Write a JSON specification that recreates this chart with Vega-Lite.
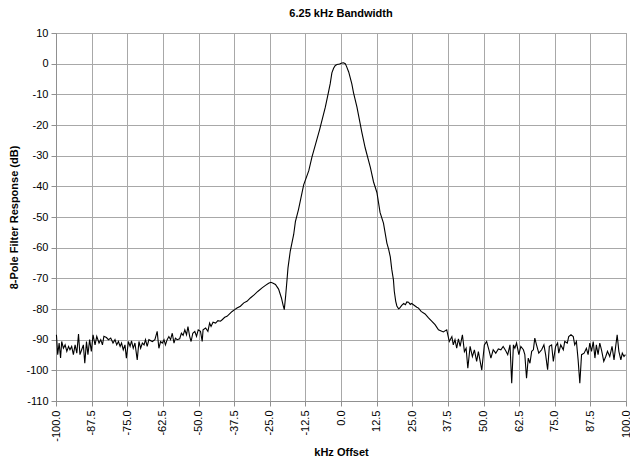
{
  "$schema": "https://vega.github.io/schema/vega-lite/v6.json",
  "autosize": {"type": "none"},
  "padding": {"left": 56, "top": 33, "right": 4, "bottom": 64},
  "width": 570,
  "height": 368,
  "background": "white",
  "title": {"text": "6.25 kHz Bandwidth", "font": "Liberation Sans", "fontSize": 11, "fontWeight": "bold", "color": "black", "anchor": "middle", "offset": 8},
  "config": {
    "view": {"stroke": "#a0a0a0", "strokeWidth": 1},
    "axis": {"labelFont": "Liberation Sans", "titleFont": "Liberation Sans", "labelColor": "black", "titleColor": "black", "labelFontSize": 11, "titleFontSize": 11, "titleFontWeight": "bold", "gridColor": "#a8a8a8", "gridOpacity": 1, "domainColor": "#909090", "tickColor": "#909090", "tickSize": 5}
  },
  "data": {"values": [
    {"k": -99.85, "db": -88.4}, {"k": -99.4, "db": -94.9}, {"k": -98.9, "db": -91.1}, {"k": -98.4, "db": -96.0}, {"k": -98.0, "db": -90.6}, {"k": -97.4, "db": -92.8}, {"k": -96.8, "db": -91.7}, {"k": -96.2, "db": -93.8}, {"k": -95.6, "db": -92.2}, {"k": -95.1, "db": -93.3}, {"k": -94.5, "db": -92.2}, {"k": -93.9, "db": -94.9}, {"k": -93.3, "db": -91.7}, {"k": -92.7, "db": -94.4}, {"k": -92.1, "db": -88.2}, {"k": -91.6, "db": -94.9}, {"k": -91.0, "db": -93.3}, {"k": -90.4, "db": -91.7}, {"k": -89.9, "db": -97.7}, {"k": -89.3, "db": -90.6}, {"k": -88.8, "db": -94.9}, {"k": -88.2, "db": -90.0}, {"k": -87.6, "db": -93.8}, {"k": -87.0, "db": -88.4}, {"k": -86.3, "db": -91.7}, {"k": -85.7, "db": -88.9}, {"k": -84.9, "db": -91.1}, {"k": -84.3, "db": -90.0}, {"k": -83.7, "db": -91.7}, {"k": -83.2, "db": -88.9}, {"k": -82.3, "db": -89.3}, {"k": -81.6, "db": -90.0}, {"k": -80.8, "db": -89.5}, {"k": -80.0, "db": -91.1}, {"k": -79.3, "db": -90.0}, {"k": -78.7, "db": -91.7}, {"k": -78.1, "db": -90.6}, {"k": -77.5, "db": -92.2}, {"k": -77.0, "db": -91.1}, {"k": -76.4, "db": -93.3}, {"k": -75.8, "db": -91.7}, {"k": -75.3, "db": -96.0}, {"k": -74.6, "db": -90.6}, {"k": -74.0, "db": -92.2}, {"k": -73.5, "db": -90.4}, {"k": -72.9, "db": -92.8}, {"k": -72.3, "db": -91.1}, {"k": -71.5, "db": -96.6}, {"k": -70.9, "db": -90.6}, {"k": -70.3, "db": -92.8}, {"k": -69.7, "db": -91.1}, {"k": -69.1, "db": -91.7}, {"k": -68.6, "db": -90.0}, {"k": -68.0, "db": -92.2},
    {"k": -67.4, "db": -90.0}, {"k": -66.2, "db": -90.6}, {"k": -65.3, "db": -90.0}, {"k": -64.5, "db": -87.3}, {"k": -63.9, "db": -92.8}, {"k": -63.3, "db": -90.6}, {"k": -62.7, "db": -91.1}, {"k": -62.1, "db": -90.0}, {"k": -61.6, "db": -91.7}, {"k": -61.0, "db": -90.0}, {"k": -60.4, "db": -89.0}, {"k": -59.8, "db": -90.0}, {"k": -59.2, "db": -87.9}, {"k": -58.6, "db": -91.1}, {"k": -58.1, "db": -89.5}, {"k": -57.5, "db": -90.0}, {"k": -56.6, "db": -89.7}, {"k": -56.0, "db": -87.9}, {"k": -55.4, "db": -88.6}, {"k": -54.8, "db": -86.8}, {"k": -54.2, "db": -88.4}, {"k": -53.7, "db": -85.7}, {"k": -53.1, "db": -88.9}, {"k": -52.6, "db": -90.6}, {"k": -52.0, "db": -87.9}, {"k": -51.3, "db": -87.3}, {"k": -50.7, "db": -88.9}, {"k": -50.1, "db": -86.8}, {"k": -49.3, "db": -87.3}, {"k": -48.7, "db": -90.6}, {"k": -48.4, "db": -86.8}, {"k": -47.5, "db": -86.2}, {"k": -46.7, "db": -87.3}, {"k": -46.1, "db": -84.6}, {"k": -45.6, "db": -85.7}, {"k": -44.9, "db": -84.3}, {"k": -44.0, "db": -84.6}, {"k": -43.2, "db": -83.8}, {"k": -42.3, "db": -84.0}, {"k": -41.7, "db": -83.5}, {"k": -40.8, "db": -82.7}, {"k": -40.0, "db": -82.4}, {"k": -39.1, "db": -81.6}, {"k": -38.2, "db": -80.8}, {"k": -37.3, "db": -80.2}, {"k": -36.5, "db": -79.7}, {"k": -35.3, "db": -79.1}, {"k": -34.1, "db": -78.0}, {"k": -33.0, "db": -77.5}, {"k": -31.8, "db": -76.4}, {"k": -30.6, "db": -75.5}, {"k": -29.1, "db": -74.2},
    {"k": -27.7, "db": -73.1}, {"k": -26.5, "db": -72.3}, {"k": -25.4, "db": -71.6}, {"k": -24.6, "db": -71.3}, {"k": -23.8, "db": -71.6}, {"k": -23.0, "db": -72.0}, {"k": -21.9, "db": -73.5}, {"k": -20.9, "db": -76.4}, {"k": -20.3, "db": -78.8}, {"k": -19.9, "db": -80.2}, {"k": -19.4, "db": -75.5}, {"k": -18.9, "db": -70.0}, {"k": -18.6, "db": -66.6}, {"k": -17.8, "db": -61.1}, {"k": -16.6, "db": -55.7}, {"k": -16.0, "db": -51.5}, {"k": -14.9, "db": -47.5}, {"k": -13.1, "db": -39.5}, {"k": -11.3, "db": -34.9}, {"k": -10.2, "db": -30.5}, {"k": -7.5, "db": -21.5}, {"k": -5.5, "db": -14.2}, {"k": -4.3, "db": -8.9}, {"k": -3.8, "db": -6.6}, {"k": -3.2, "db": -3.0}, {"k": -2.6, "db": -1.5}, {"k": -2.0, "db": -0.6}, {"k": -1.4, "db": -0.3}, {"k": -0.5, "db": -0.1}, {"k": 0.3, "db": 0.2}, {"k": 0.9, "db": 0.3}, {"k": 1.5, "db": 0.0}, {"k": 1.9, "db": -0.8}, {"k": 2.7, "db": -2.7}, {"k": 3.8, "db": -6.6}, {"k": 4.4, "db": -9.5}, {"k": 5.6, "db": -14.2}, {"k": 7.3, "db": -22.3}, {"k": 8.5, "db": -27.5}, {"k": 10.3, "db": -33.8}, {"k": 11.4, "db": -38.5}, {"k": 12.6, "db": -42.0}, {"k": 13.7, "db": -48.5}, {"k": 14.9, "db": -52.0}, {"k": 16.1, "db": -58.5}, {"k": 16.7, "db": -60.5}, {"k": 17.3, "db": -63.0}, {"k": 17.8, "db": -67.0}, {"k": 18.4, "db": -70.5}, {"k": 18.7, "db": -74.2}, {"k": 19.2, "db": -77.5}, {"k": 19.6, "db": -79.0}, {"k": 20.2, "db": -79.9}, {"k": 20.6, "db": -79.7}, {"k": 21.3, "db": -78.8}, {"k": 22.0, "db": -78.2}, {"k": 22.6, "db": -78.6}, {"k": 23.1, "db": -77.7}, {"k": 23.7, "db": -77.8}, {"k": 24.3, "db": -78.5}, {"k": 24.8, "db": -78.2}, {"k": 25.4, "db": -78.6}, {"k": 26.0, "db": -79.0}, {"k": 26.6, "db": -79.4}, {"k": 27.2, "db": -79.7},
    {"k": 28.1, "db": -80.8}, {"k": 29.5, "db": -81.6}, {"k": 30.7, "db": -82.9}, {"k": 31.9, "db": -84.0}, {"k": 33.0, "db": -85.1}, {"k": 34.2, "db": -86.8}, {"k": 35.9, "db": -87.5}, {"k": 37.1, "db": -86.8}, {"k": 38.0, "db": -90.6}, {"k": 38.9, "db": -89.0}, {"k": 39.4, "db": -91.7}, {"k": 40.0, "db": -90.0}, {"k": 40.6, "db": -92.8}, {"k": 41.2, "db": -89.7}, {"k": 41.8, "db": -92.2}, {"k": 42.6, "db": -88.4}, {"k": 43.3, "db": -93.9}, {"k": 43.9, "db": -92.8}, {"k": 44.5, "db": -99.3}, {"k": 45.3, "db": -92.2}, {"k": 46.1, "db": -95.5}, {"k": 46.8, "db": -93.3}, {"k": 47.6, "db": -97.1}, {"k": 48.2, "db": -93.9}, {"k": 49.4, "db": -99.9}, {"k": 50.3, "db": -91.7}, {"k": 51.1, "db": -90.6}, {"k": 51.9, "db": -93.3}, {"k": 52.6, "db": -96.0}, {"k": 53.4, "db": -93.3}, {"k": 54.3, "db": -94.4}, {"k": 55.2, "db": -93.0}, {"k": 56.1, "db": -93.3}, {"k": 56.9, "db": -92.2}, {"k": 57.8, "db": -93.6}, {"k": 58.5, "db": -94.9},
    {"k": 59.3, "db": -91.7}, {"k": 59.9, "db": -104.2}, {"k": 60.5, "db": -91.7}, {"k": 61.0, "db": -92.8}, {"k": 61.6, "db": -91.1}, {"k": 62.4, "db": -94.9}, {"k": 63.1, "db": -92.2}, {"k": 64.0, "db": -93.3}, {"k": 64.5, "db": -94.9}, {"k": 65.1, "db": -102.6}, {"k": 65.7, "db": -96.0}, {"k": 66.3, "db": -97.7}, {"k": 66.9, "db": -93.8}, {"k": 67.5, "db": -93.3}, {"k": 68.0, "db": -89.5}, {"k": 68.6, "db": -91.7}, {"k": 69.4, "db": -94.4}, {"k": 70.4, "db": -93.3}, {"k": 71.2, "db": -91.7}, {"k": 71.8, "db": -94.9}, {"k": 72.5, "db": -99.8}, {"k": 73.1, "db": -92.2}, {"k": 73.9, "db": -91.7}, {"k": 74.5, "db": -97.1}, {"k": 75.3, "db": -92.2}, {"k": 76.0, "db": -91.1}, {"k": 76.4, "db": -94.4}, {"k": 77.1, "db": -91.7}, {"k": 78.0, "db": -93.3}, {"k": 78.5, "db": -90.6}, {"k": 79.4, "db": -91.1}, {"k": 79.9, "db": -89.0}, {"k": 80.7, "db": -88.4}, {"k": 81.5, "db": -89.0}, {"k": 82.0, "db": -91.7}, {"k": 82.6, "db": -90.6}, {"k": 83.2, "db": -96.6}, {"k": 83.8, "db": -104.2}, {"k": 84.4, "db": -94.9}, {"k": 85.3, "db": -94.4}, {"k": 86.1, "db": -92.8}, {"k": 86.7, "db": -94.9}, {"k": 87.3, "db": -91.1}, {"k": 87.9, "db": -93.8}, {"k": 88.5, "db": -90.6}, {"k": 89.1, "db": -96.0}, {"k": 89.6, "db": -91.7}, {"k": 90.2, "db": -94.9}, {"k": 90.8, "db": -91.1}, {"k": 91.4, "db": -93.3}, {"k": 92.2, "db": -97.1}, {"k": 92.9, "db": -95.5}, {"k": 93.5, "db": -93.8}, {"k": 94.3, "db": -95.5}, {"k": 95.1, "db": -92.2}, {"k": 95.8, "db": -96.6}, {"k": 96.3, "db": -92.8}, {"k": 96.9, "db": -88.4}, {"k": 97.5, "db": -93.8}, {"k": 98.2, "db": -96.6}, {"k": 98.7, "db": -94.4}, {"k": 99.3, "db": -95.5}, {"k": 99.8, "db": -94.9}
  ]},
  "mark": {"type": "line", "color": "black", "strokeWidth": 1.1, "interpolate": "linear"},
  "encoding": {
    "x": {"field": "k", "type": "quantitative", "title": "kHz Offset",
      "scale": {"domain": [-100, 100], "nice": false, "zero": false},
      "axis": {"values": [-100, -87.5, -75, -62.5, -50, -37.5, -25, -12.5, 0, 12.5, 25, 37.5, 50, 62.5, 75, 87.5, 100], "labelExpr": "replace(format(datum.value, '.1f'), '\u2212', '-')", "labelAngle": -90, "labelAlign": "right", "labelBaseline": "middle", "labelPadding": 4, "titlePadding": 5, "labelFlush": false, "labelOverlap": false}},
    "y": {"field": "db", "type": "quantitative", "title": "8-Pole Filter Response (dB)",
      "scale": {"domain": [-110, 10], "nice": false, "zero": false},
      "axis": {"values": [-110, -100, -90, -80, -70, -60, -50, -40, -30, -20, -10, 0, 10], "labelExpr": "replace(format(datum.value, 'd'), '\u2212', '-')", "labelPadding": 3, "titlePadding": 6, "labelFlush": false, "labelOverlap": false}}
  }
}
